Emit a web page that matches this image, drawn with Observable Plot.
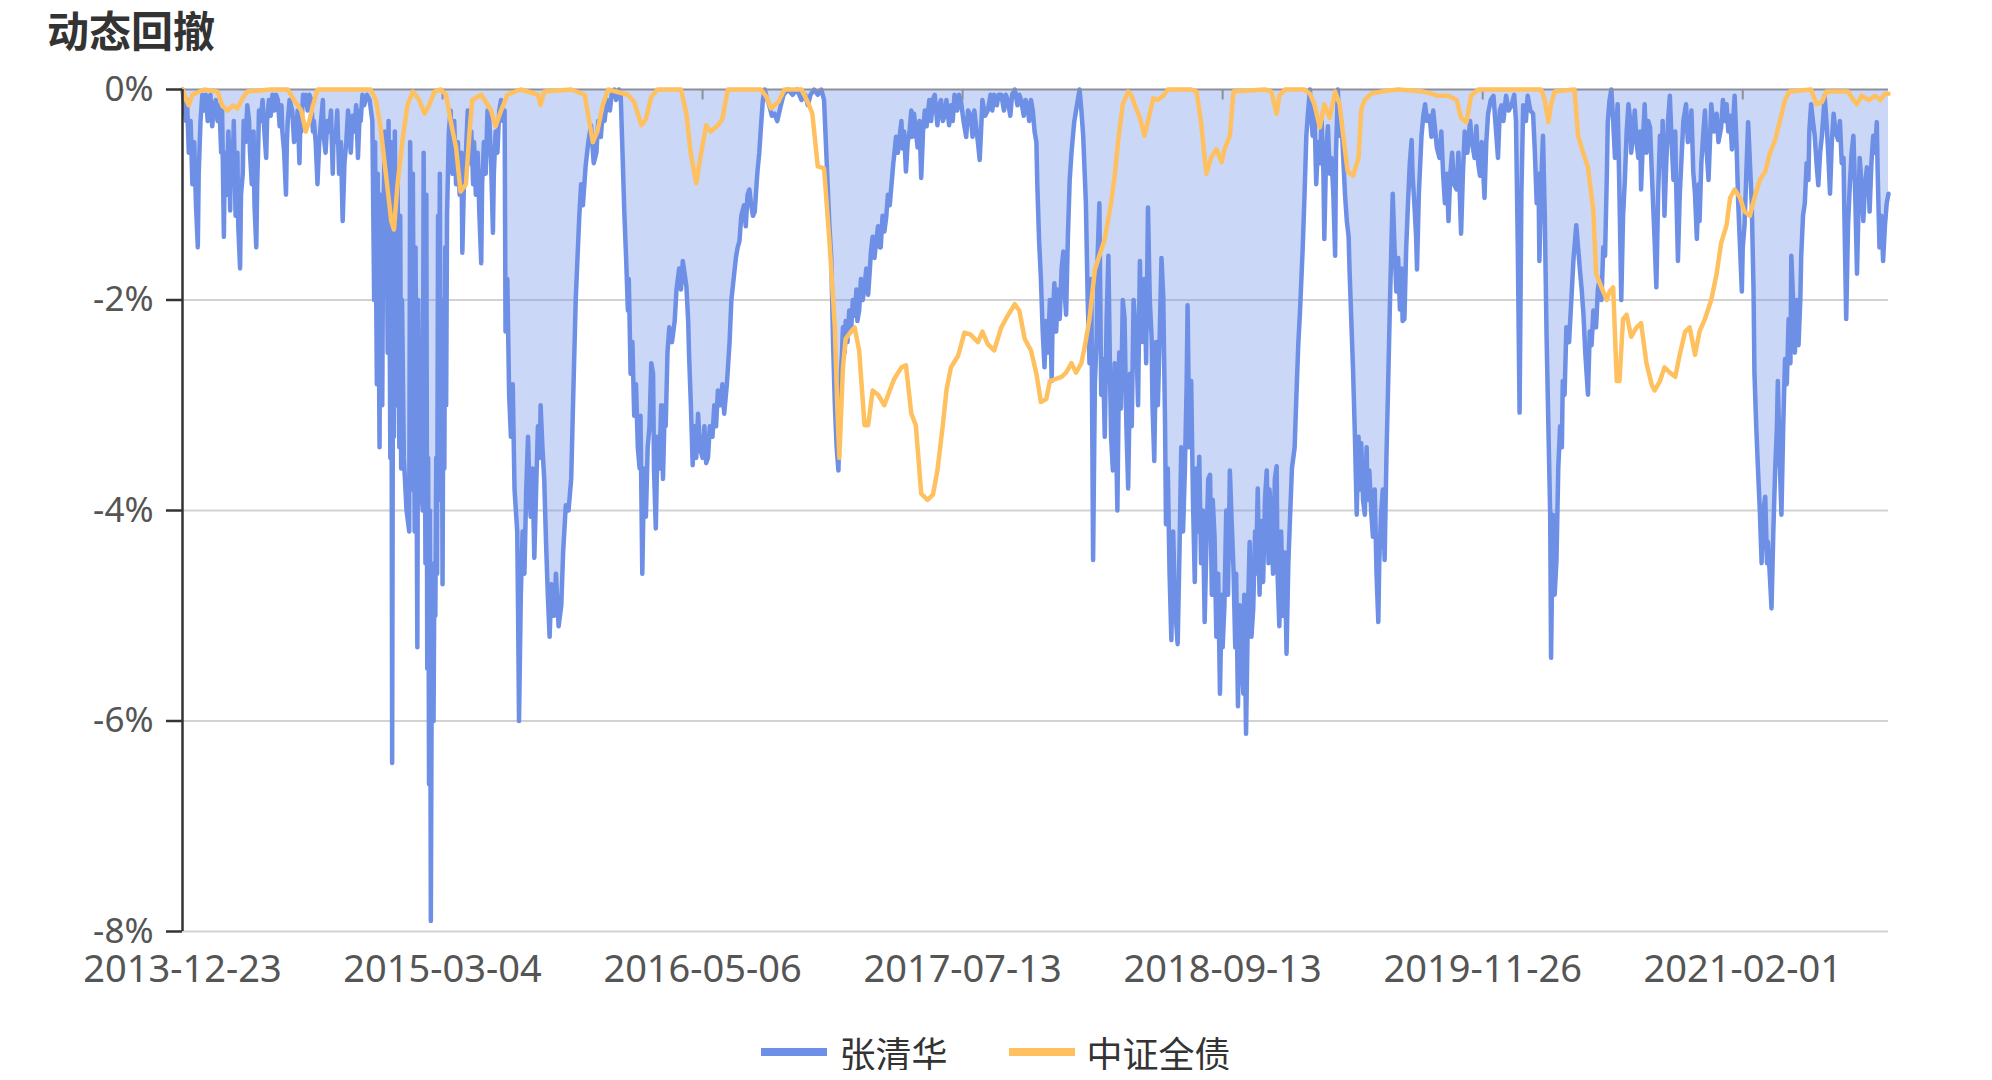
<!DOCTYPE html>
<html><head><meta charset="utf-8">
<script src="https://cdn.jsdelivr.net/npm/d3@7"></script>
<script src="https://cdn.jsdelivr.net/npm/@observablehq/plot@0.6"></script>
<style>
body{margin:0;background:#fff;}
#title{height:58px;line-height:58px;padding-left:47px;font-size:42px;font-weight:bold;color:#333;font-family:"Noto Sans CJK SC",sans-serif;}
#chart svg{display:block;}
#legend{display:flex;justify-content:center;align-items:center;padding-top:34px;gap:61px;font-size:36px;line-height:36px;color:#333;font-family:"Noto Sans CJK SC",sans-serif;}
.item{display:flex;align-items:center;gap:12px}
.sw{width:66px;height:8px}
</style></head><body>
<div id="title">动态回撤</div>
<div id="chart"></div>
<div id="legend"></div>
<script>
// series names and colours
const seriesNames = ["张清华", "中证全债"];
const seriesColors = ["#6e8fe6", "#ffc060"];

// x axis: trading-day index of the labelled categories, and their labels
const xTickIdx = [0, 289, 578, 867, 1156, 1445, 1734];
const xTickLabels = ["2013-12-23", "2015-03-04", "2016-05-06", "2017-07-13", "2018-09-13", "2019-11-26", "2021-02-01"];
const yTicks = [0, -2, -4, -6, -8];

// 张清华 drawdown (%), [trading-day index, value]
const zhangQinghua = [
[0,0],[2,-0.15],[4,-0.3],[5,-0.1],[7,-0.6],[9,-0.3],[11,-0.9],[13,-0.5],[15,-1.1],[17,-1.5],[18,-0.8],[20,-0.3],[22,-0.05],[24,-0.2],[26,-0.05],[28,-0.3],[30,-0.2],[31,-0.05],[33,-0.35],[35,-0.15],[37,-0.1],[39,-0.3],[41,-0.15],[43,-0.6],[44,-0.2],[46,-1.4],[47,-0.6],[49,-1.0],[51,-0.4],[53,-1.15],[54,-0.5],[56,-0.7],[57,-0.3],[59,-1.2],[61,-0.6],[62,-1.3],[64,-1.7],[65,-1.0],[67,-0.8],[68,-0.3],[70,-0.5],[72,-0.15],[74,-0.3],[75,-0.6],[77,-0.9],[79,-0.4],[80,-1.1],[82,-1.5],[83,-0.9],[84,-0.6],[85,-0.2],[87,-0.3],[89,-0.1],[91,-0.4],[93,-0.65],[94,-0.3],[96,-0.1],[98,-0.25],[100,-0.05],[102,-0.2],[104,-0.05],[106,-0.1],[108,-0.35],[110,-0.15],[111,-0.4],[113,-0.6],[115,-1.0],[116,-0.5],[117,-0.3],[119,-0.1],[122,-0.2],[124,-0.5],[126,-0.4],[128,-0.2],[130,-0.7],[131,-0.3],[132,-0.4],[134,-0.05],[135,-0.1],[137,-0.05],[139,-0.2],[141,-0.05],[143,-0.1],[145,-0.4],[146,-0.3],[148,-0.5],[150,-0.9],[152,-0.5],[154,-0.3],[156,-0.1],[157,-0.45],[159,-0.6],[161,-0.3],[163,-0.4],[165,-0.2],[167,-0.8],[168,-0.4],[170,-0.5],[172,-0.2],[174,-0.8],[176,-0.5],[178,-1.25],[180,-0.7],[182,-0.5],[184,-0.2],[187,-0.6],[189,-0.25],[191,-0.4],[193,-0.15],[195,-0.65],[197,-0.2],[198,-0.3],[200,-0.05],[202,-0.15],[205,-0.05],[208,-0.1],
[211,-0.3],[213,-2.0],[214,-0.5],[216,-2.8],[217,-0.8],[219,-3.4],[220,-1.0],[222,-3.0],[223,-1.3],[225,-0.4],[227,-1.0],[228,-2.5],[229,-0.3],[231,-3.5],[232,-0.5],[233,-6.4],[234,-2.0],[235,-3.3],[236,-0.4],[238,-3.0],[239,-0.8],[241,-3.4],[242,-1.2],[243,-3.6],[244,-2.0],[246,-3.5],[249,-4.0],[252,-4.2],[253,-0.5],[255,-3.8],[256,-0.8],[258,-4.2],[259,-1.5],[261,-5.3],[262,-2.0],[264,-3.6],[267,-4.0],[268,-0.6],[270,-4.5],[271,-1.0],[272,-5.5],[273,-3.5],[274,-6.6],[275,-4.0],[276,-7.9],[277,-5.5],[279,-6.0],[280,-4.5],[281,-5.0],[282,-3.5],[283,-4.6],[284,-1.2],[285,-3.0],[286,-0.8],[287,-3.9],[288,-2.0],[289,-4.7],[290,-2.5],[291,-3.6],[292,-1.5],[293,-3.0],[294,-1.2],[296,-0.4],
[298,-0.2],[300,-0.8],[302,-0.3],[304,-0.9],[306,-0.5],[308,-1.0],[310,-0.6],[311,-1.55],[313,-0.8],[315,-0.6],[317,-0.2],[319,-0.7],[321,-0.4],[323,-0.9],[324,-0.5],[326,-1.0],[328,-0.6],[330,-1.2],[332,-1.65],[333,-0.9],[335,-0.5],[337,-0.8],[339,-0.2],[341,-0.3],[343,-0.7],[345,-1.36],[346,-0.8],[348,-0.4],[350,-0.6],[352,-0.2],[354,-0.1],[356,-0.3],[358,-0.2],
[359,-2.3],[361,-1.8],[363,-2.9],[365,-3.3],[367,-2.8],[369,-3.8],[372,-4.2],[373,-5.0],[374,-6.0],[376,-4.8],[378,-4.2],[380,-4.6],[382,-3.8],[384,-3.3],[386,-3.9],[387,-4.06],[389,-3.6],[391,-4.45],[393,-3.8],[395,-3.2],[397,-3.5],[398,-3.0],[400,-3.4],[402,-3.7],[404,-4.3],[406,-4.8],[408,-5.2],[410,-4.7],[413,-5.0],[415,-4.6],[418,-5.1],[421,-4.9],[423,-4.4],[426,-3.95],[429,-4.0],[432,-3.7],[434,-3.0],[437,-2.0],[439,-1.6],[441,-1.2],[443,-0.9],[445,-1.1],[448,-0.73],[451,-0.5],[454,-0.34],[457,-0.7],[460,-0.6],[462,-0.3],[465,-0.45],[467,-0.2],[469,-0.3],[472,-0.1],[475,-0.2],[477,-0.05],[480,0],
[482,-0.1],[485,0],[487,-0.05],[489,-0.6],[491,-1.16],[493,-1.6],[495,-2.1],[496,-1.8],[498,-2.7],[500,-2.4],[502,-3.1],[504,-2.8],[506,-3.4],[508,-3.6],[509,-3.1],[511,-4.6],[513,-3.6],[515,-4.06],[517,-3.4],[519,-3.2],[521,-2.6],[523,-2.7],[524,-3.6],[526,-4.17],[528,-3.3],[530,-3.6],[532,-3.0],[534,-3.7],[536,-3.0],[537,-3.2],[539,-2.5],[541,-2.26],[544,-2.4],[547,-2.2],[549,-1.9],[552,-1.7],[554,-1.9],[556,-1.63],[558,-1.75],[560,-1.87],[562,-2.2],[563,-2.53],[565,-3.0],[567,-3.57],[569,-3.2],[571,-3.5],[573,-3.08],[575,-3.4],[578,-3.5],[580,-3.2],[582,-3.55],[584,-3.5],[586,-3.2],[589,-3.3],[591,-3.0],[593,-3.2],[595,-2.86],[598,-3.0],[600,-2.8],[602,-3.08],[605,-2.8],[608,-2.4],[610,-2.0],[613,-1.76],[615,-1.6],[617,-1.5],[619,-1.44],[621,-1.2],[624,-1.1],[626,-1.3],[628,-1.0],[630,-0.95],[632,-1.1],[634,-1.2],[636,-1.16],[638,-0.9],[639,-0.78],[641,-0.6],[643,-0.34],[645,-0.1],[647,0],
[650,-0.1],[652,-0.15],[655,-0.25],[658,-0.23],[661,-0.3],[665,-0.15],[668,-0.05],[673,0],[678,-0.05],[683,0],[688,-0.1],[692,-0.05],[695,-0.15],[698,-0.05],[702,0],[706,-0.05],[710,0],[713,-0.1],
[715,-0.5],[717,-0.9],[719,-1.3],[721,-1.6],[723,-2.4],[725,-3.0],[727,-3.4],[729,-3.62],[730,-3.2],[731,-2.8],[733,-2.5],[734,-2.26],[736,-2.5],[737,-2.2],[739,-2.4],[741,-2.1],[743,-2.3],[745,-2.0],[747,-2.15],[749,-1.9],[750,-2.2],[752,-2.1],[754,-1.8],[756,-2.0],[758,-1.87],[760,-1.7],[762,-1.95],[764,-1.7],[765,-1.55],[767,-1.4],[769,-1.6],[771,-1.44],[773,-1.3],[775,-1.5],[776,-1.5],[778,-1.2],[780,-1.35],[782,-1.22],[784,-1.0],[786,-1.1],[788,-0.9],[790,-0.7],[791,-0.62],[793,-0.45],[795,-0.6],[797,-0.45],[799,-0.3],[800,-0.56],[802,-0.4],[804,-0.78],[806,-0.5],[808,-0.4],[810,-0.2],[811,-0.45],[813,-0.23],[815,-0.4],[817,-0.55],[819,-0.3],[821,-0.84],[823,-0.4],[825,-0.2],[827,-0.35],[830,-0.1],[832,-0.3],[834,-0.1],[836,-0.05],[839,-0.34],[841,-0.15],[843,-0.1],[845,-0.3],[847,-0.25],[849,-0.1],[852,-0.34],[854,-0.15],[856,-0.3],[858,-0.05],[861,-0.2],[863,-0.05],[865,-0.1],[868,-0.3],[871,-0.45],[873,-0.2],[876,-0.25],[878,-0.45],[880,-0.2],[882,-0.35],[884,-0.5],[886,-0.67],[888,-0.3],[889,-0.1],[892,-0.25],[895,-0.2],[898,-0.05],[900,-0.2],[902,-0.05],[905,-0.15],[907,-0.05],[910,-0.05],[913,-0.2],[915,-0.05],[917,-0.1],[920,-0.25],[922,-0.05],[925,0],[928,-0.15],[930,-0.05],[932,-0.1],[935,-0.25],[937,-0.1],[939,-0.15],[941,-0.3],[943,-0.1],[945,-0.2],[947,-0.4],[949,-0.5],
[950,-0.9],[952,-1.44],[954,-1.8],[956,-2.3],[958,-2.64],[960,-2.2],[962,-2.5],[964,-2.0],[966,-2.77],[967,-2.2],[969,-1.84],[971,-2.3],[973,-1.9],[975,-2.18],[977,-1.7],[979,-1.54],[981,-2.0],[982,-2.14],[984,-1.4],[986,-0.86],[988,-0.6],[991,-0.31],[994,-0.15],[997,0],[999,-0.2],
[1001,-0.44],[1004,-1.08],[1006,-2.0],[1008,-2.6],[1010,-1.8],[1012,-4.47],[1014,-2.8],[1016,-2.35],[1017,-1.6],[1019,-1.08],[1021,-2.9],[1023,-2.56],[1025,-3.3],[1027,-2.2],[1029,-1.58],[1031,-2.8],[1032,-3.3],[1034,-3.62],[1036,-2.6],[1039,-4.0],[1041,-2.5],[1043,-3.03],[1045,-2.0],[1047,-2.18],[1049,-3.2],[1051,-3.79],[1053,-2.7],[1055,-3.2],[1057,-2.0],[1060,-2.35],[1062,-3.0],[1064,-1.63],[1066,-2.4],[1069,-1.8],[1071,-2.6],[1073,-1.12],[1075,-2.0],[1077,-2.35],[1078,-3.0],[1080,-3.53],[1082,-2.4],[1084,-3.0],[1086,-2.35],[1088,-1.6],[1090,-1.97],[1092,-3.2],[1093,-4.13],[1095,-3.6],[1097,-4.6],[1099,-5.23],[1101,-4.2],[1103,-4.9],[1106,-5.27],[1108,-4.4],[1110,-3.4],[1112,-4.2],[1114,-3.62],[1116,-2.8],[1117,-2.05],[1119,-3.4],[1121,-2.77],[1123,-3.9],[1125,-4.68],[1127,-3.6],[1128,-4.2],[1130,-3.49],[1132,-4.5],[1134,-4.0],[1136,-5.06],[1138,-4.3],[1140,-3.7],[1142,-3.66],[1144,-4.8],[1145,-3.9],[1147,-4.25],[1149,-5.2],[1151,-4.6],[1153,-5.74],[1155,-4.8],[1156,-5.3],[1158,-4.89],[1160,-4.0],[1162,-4.8],[1164,-3.62],[1166,-4.1],[1168,-4.55],[1170,-5.3],[1171,-4.6],[1173,-5.86],[1175,-4.9],[1177,-5.4],[1179,-5.74],[1180,-4.8],[1182,-6.12],[1184,-5.0],[1186,-4.3],[1188,-5.2],[1190,-4.93],[1192,-4.2],[1193,-4.6],[1195,-3.79],[1197,-4.8],[1199,-4.1],[1201,-4.68],[1203,-3.9],[1205,-3.62],[1207,-4.5],[1208,-3.8],[1210,-4.04],[1212,-4.6],[1214,-3.7],[1216,-3.58],[1217,-4.6],[1219,-5.1],[1221,-4.2],[1223,-5.0],[1225,-4.4],[1227,-5.36],[1229,-4.5],[1231,-4.04],[1233,-3.6],[1236,-3.4],[1238,-2.9],[1240,-2.43],[1242,-2.1],[1245,-1.5],[1247,-1.0],[1249,-0.44],[1251,-0.2],[1253,0],
[1254,-0.2],[1256,-0.44],[1258,-0.2],[1260,-0.9],[1262,-0.5],[1264,-0.7],[1266,-0.3],[1268,-0.8],[1269,-1.42],[1271,-0.6],[1273,-0.35],[1275,-0.8],[1277,-0.65],[1279,-1.0],[1281,-1.58],[1282,-0.6],[1284,0],[1286,-0.44],[1288,-0.3],[1290,-0.65],[1292,-1.0],[1294,-1.25],[1296,-1.4],[1297,-1.71],[1299,-2.2],[1301,-2.69],[1303,-3.3],[1305,-4.04],[1307,-3.3],[1308,-3.8],[1310,-3.36],[1312,-3.9],[1314,-4.04],[1316,-3.4],[1317,-3.9],[1319,-3.62],[1321,-4.0],[1323,-4.25],[1325,-3.8],[1327,-4.6],[1329,-5.06],[1330,-4.5],[1332,-4.04],[1334,-3.8],[1336,-4.47],[1338,-3.5],[1340,-2.77],[1342,-2.0],[1345,-0.99],[1347,-1.5],[1349,-1.92],[1351,-1.6],[1353,-2.09],[1355,-1.7],[1356,-2.2],[1358,-2.18],[1360,-1.5],[1362,-1.08],[1364,-0.7],[1366,-0.48],[1367,-0.8],[1369,-1.08],[1371,-1.4],[1372,-1.71],[1374,-1.0],[1377,-0.44],[1379,-0.25],[1381,-0.14],[1383,-0.3],[1386,-0.25],[1388,-0.45],[1390,-0.2],[1392,-0.37],[1394,-0.55],[1397,-0.65],[1399,-0.4],[1401,-0.8],[1403,-1.08],[1405,-0.8],[1407,-1.25],[1409,-0.8],[1411,-0.6],[1413,-0.9],[1416,-0.95],[1418,-0.6],[1421,-1.37],[1423,-0.8],[1425,-0.4],[1428,-0.6],[1431,-0.3],[1433,-0.5],[1436,-0.65],[1438,-0.35],[1440,-0.7],[1442,-0.82],[1444,-0.5],[1447,-1.03],[1449,-0.5],
[1451,-0.23],[1454,-0.1],[1457,-0.06],[1459,-0.3],[1462,-0.65],[1464,-0.2],[1466,-0.15],[1468,-0.3],[1471,-0.06],[1474,-0.2],[1477,-0.15],[1480,-0.05],[1482,-0.3],[1484,-1.5],[1486,-3.07],[1488,-1.0],[1490,-0.15],[1493,-0.3],[1495,-0.06],[1498,-0.2],[1501,-0.23],[1503,-0.6],[1505,-1.08],[1507,-0.8],[1508,-1.63],[1510,-0.9],[1512,-0.44],[1514,-1.2],[1516,-2.35],[1518,-3.2],[1520,-4.04],[1521,-5.4],[1523,-4.04],[1525,-4.8],[1527,-4.47],[1529,-3.6],[1531,-3.2],[1533,-3.4],[1534,-2.77],[1536,-2.9],[1538,-2.26],[1541,-2.4],[1544,-1.92],[1546,-1.6],[1549,-1.29],[1551,-1.5],[1553,-1.71],[1555,-1.9],[1557,-2.14],[1559,-2.5],[1562,-2.9],[1564,-2.3],[1566,-2.43],[1568,-2.1],[1571,-2.26],[1573,-1.9],[1575,-1.8],[1577,-2.0],[1579,-1.5],[1581,-1.58],[1583,-0.8],[1584,-0.31],[1586,-0.1],[1588,0],[1590,-0.3],[1592,-0.65],[1594,-0.3],[1595,-0.14],[1597,-1.0],[1599,-2.0],[1601,-1.2],[1603,-0.86],[1605,-0.4],[1607,-0.14],[1609,-0.3],[1610,-0.6],[1612,-0.44],[1614,-0.2],[1616,-0.5],[1618,-0.65],[1620,-0.4],[1621,-0.95],[1623,-0.5],[1625,-0.14],[1627,-0.6],[1629,-0.3],[1631,-0.36],[1633,-0.8],[1636,-1.42],[1638,-1.88],[1640,-1.0],[1642,-0.44],[1644,-0.7],[1645,-0.3],[1647,-1.2],[1649,-0.7],[1651,-0.3],[1653,-0.06],[1655,-0.5],[1657,-0.86],[1659,-0.4],[1660,-0.9],[1662,-1.63],[1664,-1.0],[1666,-0.65],[1668,-0.3],[1671,-0.14],[1673,-0.5],[1675,-0.44],[1677,-0.2],[1679,-0.78],[1681,-1.0],[1683,-1.42],[1685,-0.9],[1686,-1.25],[1688,-0.7],[1690,-0.44],[1692,-0.2],[1694,-0.6],[1696,-0.86],[1698,-0.4],[1699,-0.14],[1702,-0.4],[1705,-0.23],[1707,-0.5],[1710,-0.36],[1712,-0.1],[1714,-0.3],[1716,-0.14],[1718,-0.4],[1720,-0.25],[1722,-0.57],[1724,-0.2],[1725,-0.06],[1727,-0.5],[1729,-1.08],[1731,-1.5],[1733,-1.92],[1734,-1.5],[1736,-1.29],[1738,-0.8],[1740,-0.31],[1742,-0.7],[1744,-1.08],[1746,-1.9],[1747,-2.69],[1749,-3.2],[1751,-3.62],[1753,-4.0],[1755,-4.5],[1757,-4.0],[1759,-3.87],[1761,-4.5],[1762,-4.3],[1764,-4.6],[1766,-4.93],[1768,-4.2],[1770,-3.62],[1772,-3.2],[1773,-2.77],[1775,-3.5],[1777,-4.04],[1779,-3.2],[1781,-2.56],[1783,-2.8],[1785,-2.18],[1787,-2.6],[1788,-1.58],[1790,-2.0],[1792,-2.5],[1794,-2.0],[1796,-2.43],[1798,-2.0],[1799,-1.58],[1801,-1.2],[1803,-1.08],[1805,-0.7],[1807,-0.86],[1808,-0.4],[1810,-0.14],[1812,-0.3],[1814,-0.44],[1816,-0.7],[1818,-0.91],[1820,-0.6],[1822,-0.44],[1824,-0.2],[1825,-0.06],[1827,-0.3],[1829,-0.6],[1831,-0.99],[1833,-0.5],[1835,-0.23],[1837,-0.4],[1840,-0.48],[1842,-0.3],[1844,-0.7],[1846,-0.65],[1847,-1.2],[1849,-2.18],[1851,-1.3],[1853,-0.91],[1855,-0.6],[1857,-0.44],[1859,-1.0],[1861,-1.75],[1863,-1.0],[1864,-0.65],[1866,-0.9],[1868,-1.25],[1870,-0.9],[1872,-0.74],[1874,-0.9],[1875,-1.16],[1877,-0.7],[1879,-0.44],[1881,-0.6],[1883,-0.31],[1884,-0.8],[1886,-1.5],[1888,-1.2],[1890,-1.63],[1892,-1.3],[1894,-1.08],[1896,-0.99]
];

// 中证全债 drawdown (%), [trading-day index, value]
const zhongzhengQuanzhai = [
[0,0],[4,-0.1],[7,-0.15],[11,-0.05],[24,0],[39,-0.02],[44,-0.15],[50,-0.2],[56,-0.15],[61,-0.18],[67,-0.08],[72,-0.02],[98,0],[117,0],[124,-0.1],[132,-0.2],[137,-0.4],[141,-0.3],[145,-0.15],[150,0],[172,0],[209,0],[215,-0.1],[220,-0.35],[226,-0.8],[232,-1.25],[235,-1.33],[239,-0.9],[245,-0.45],[250,-0.15],[256,-0.02],[263,-0.1],[269,-0.23],[274,-0.15],[280,-0.02],[287,0],[293,-0.05],[298,-0.3],[304,-0.55],[309,-0.97],[315,-0.9],[319,-0.4],[322,-0.1],[332,-0.05],[343,-0.2],[348,-0.35],[354,-0.2],[361,-0.05],[376,0],[395,-0.05],[398,-0.15],[402,-0.02],[432,0],[447,-0.05],[452,-0.3],[456,-0.5],[461,-0.4],[467,-0.15],[473,0],[495,-0.05],[502,-0.12],[510,-0.34],[515,-0.28],[521,-0.07],[528,0],[554,0],[560,-0.23],[565,-0.62],[571,-0.89],[576,-0.62],[582,-0.34],[587,-0.4],[595,-0.34],[600,-0.28],[606,0],[643,0],[649,-0.07],[654,-0.18],[662,-0.12],[669,0],[688,0],[695,-0.12],[700,-0.23],[706,-0.73],[713,-0.75],[719,-1.44],[725,-2.26],[728,-3.08],[730,-3.5],[734,-2.64],[737,-2.37],[743,-2.3],[747,-2.26],[752,-2.48],[758,-3.19],[762,-3.19],[767,-2.86],[773,-2.9],[780,-3.0],[786,-2.86],[791,-2.75],[799,-2.64],[804,-2.62],[810,-3.08],[815,-3.19],[821,-3.84],[828,-3.9],[834,-3.85],[839,-3.62],[845,-3.19],[849,-2.86],[854,-2.64],[862,-2.53],[869,-2.31],[876,-2.33],[884,-2.4],[889,-2.3],[895,-2.42],[902,-2.48],[910,-2.26],[917,-2.15],[925,-2.04],[930,-2.1],[936,-2.37],[943,-2.48],[949,-2.7],[954,-2.97],[960,-2.94],[964,-2.77],[977,-2.73],[982,-2.69],[988,-2.6],[993,-2.69],[999,-2.6],[1003,-2.43],[1008,-2.18],[1014,-1.71],[1019,-1.58],[1025,-1.42],[1032,-1.08],[1036,-0.82],[1040,-0.48],[1045,-0.14],[1051,-0.02],[1055,-0.06],[1058,-0.14],[1064,-0.27],[1069,-0.44],[1075,-0.23],[1079,-0.08],[1084,-0.1],[1090,-0.06],[1095,0],[1121,0],[1127,-0.02],[1132,-0.31],[1136,-0.65],[1138,-0.8],[1143,-0.65],[1149,-0.57],[1155,-0.69],[1158,-0.57],[1164,-0.44],[1168,-0.02],[1203,0],[1210,-0.02],[1216,-0.23],[1219,-0.06],[1225,0],[1247,0],[1253,-0.04],[1258,-0.14],[1264,-0.36],[1269,-0.14],[1275,-0.27],[1281,-0.02],[1286,-0.14],[1290,-0.44],[1295,-0.78],[1301,-0.82],[1307,-0.65],[1310,-0.19],[1314,-0.1],[1321,-0.04],[1332,-0.02],[1351,0],[1379,-0.02],[1388,-0.04],[1395,-0.06],[1407,-0.06],[1416,-0.1],[1421,-0.27],[1427,-0.31],[1432,-0.06],[1440,0],[1510,0],[1514,-0.1],[1518,-0.31],[1521,-0.14],[1525,-0.02],[1547,0],[1551,-0.44],[1557,-0.61],[1562,-0.74],[1568,-1.16],[1571,-1.75],[1577,-1.88],[1583,-2.0],[1586,-1.92],[1590,-1.88],[1594,-2.77],[1597,-2.77],[1601,-2.18],[1605,-2.14],[1610,-2.35],[1616,-2.26],[1621,-2.22],[1627,-2.6],[1633,-2.81],[1636,-2.86],[1642,-2.77],[1647,-2.64],[1653,-2.69],[1659,-2.73],[1664,-2.52],[1670,-2.3],[1675,-2.26],[1681,-2.52],[1686,-2.3],[1692,-2.18],[1699,-2.0],[1705,-1.75],[1710,-1.46],[1716,-1.29],[1720,-1.03],[1725,-0.95],[1731,-1.03],[1736,-1.16],[1742,-1.2],[1747,-1.03],[1753,-0.86],[1759,-0.78],[1764,-0.61],[1770,-0.48],[1775,-0.31],[1781,-0.1],[1786,-0.02],[1810,0],[1816,-0.14],[1822,-0.12],[1827,-0.02],[1851,-0.02],[1857,-0.1],[1861,-0.14],[1866,-0.06],[1874,-0.1],[1881,-0.06],[1887,-0.1],[1892,-0.04],[1896,-0.04]
];

const blue = zhangQinghua.map(([i, v]) => ({i, v}));
const orange = zhongzhengQuanzhai.map(([i, v]) => ({i, v}));
const gridLevels = yTicks.filter(d => d !== 0);

const chart = Plot.plot({
  width: 1992,
  height: 942,
  marginLeft: 182,
  marginRight: 104,
  marginTop: 31,
  marginBottom: 69,
  style: {fontFamily: "'Noto Sans', 'Noto Sans CJK SC', sans-serif", fontSize: "36px", color: "#555", background: "#fff"},
  x: {type: "linear"},
  y: {domain: [-8, 0]},
  marks: [
    Plot.gridY(gridLevels, {stroke: "#d2d2d2", strokeOpacity: 1, strokeWidth: 2}),
    Plot.areaY(blue, {x: "i", y: "v", fill: seriesColors[0], fillOpacity: 0.36}),
    Plot.lineY(blue, {x: "i", y: "v", stroke: seriesColors[0], strokeWidth: 4.5}),
    Plot.ruleY([0], {stroke: "#8c909b", strokeWidth: 2}),
    Plot.ruleX(xTickIdx, {x: d => d, y1: 0, y2: -0.1, stroke: "#8c909b", strokeWidth: 2}),
    Plot.lineY(orange, {x: "i", y: "v", stroke: seriesColors[1], strokeWidth: 4.5}),
    Plot.ruleX([0], {stroke: "#333", strokeWidth: 2.5}),
    Plot.axisY({ticks: yTicks, tickSize: 16, tickPadding: 13, tickFormat: d => `${d}%`, stroke: "#333", strokeWidth: 2.5, fill: "#555", fontSize: 35, label: null}),
    Plot.axisX({ticks: xTickIdx, tickSize: 0, tickPadding: 24, tickFormat: d => xTickLabels[xTickIdx.indexOf(d)], fill: "#555", fontSize: 38, label: null})
  ]
});
document.getElementById("chart").appendChild(chart);

const legend = document.getElementById("legend");
seriesNames.forEach((name, k) => {
  const item = document.createElement("div");
  item.className = "item";
  const sw = document.createElement("div");
  sw.className = "sw";
  sw.style.background = seriesColors[k];
  const t = document.createElement("span");
  t.textContent = name;
  item.appendChild(sw);
  item.appendChild(t);
  legend.appendChild(item);
});
</script>
</body></html>
